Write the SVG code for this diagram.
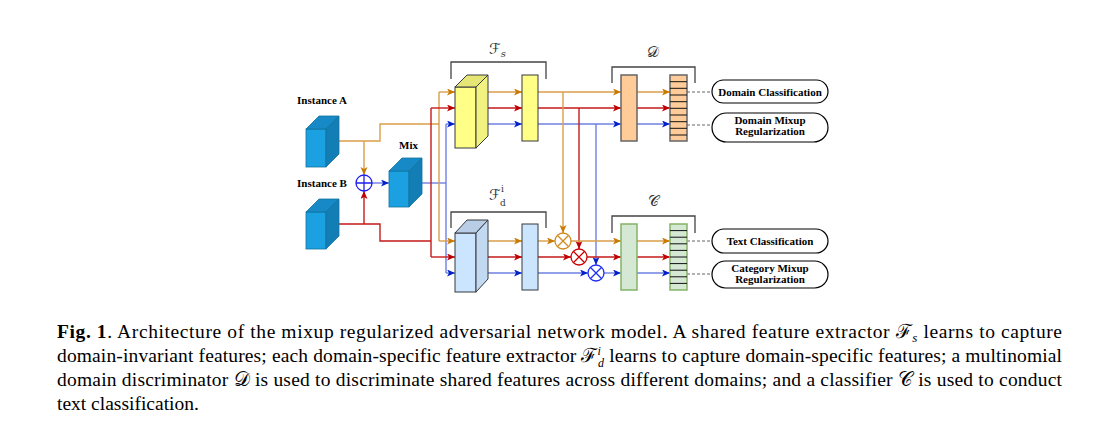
<svg xmlns="http://www.w3.org/2000/svg" width="1101" height="425" viewBox="0 0 1101 425">
<defs>
<style>
.lbl{font-family:"Liberation Serif","Times New Roman",serif;font-weight:bold;font-size:11px;fill:#000;text-anchor:middle}
.math{font-family:"DejaVu Serif","DejaVu Sans",serif;font-style:normal;fill:#333}
.cap{font-family:"Liberation Serif","Times New Roman",serif;font-size:19.5px;fill:#000}
.lo{fill:none;stroke:#DA9E4A;stroke-width:1.4}
.lr{fill:none;stroke:#C41A1A;stroke-width:1.4}
.lb{fill:none;stroke:#6E80E2;stroke-width:1.4}
.ao{marker-end:url(#mo)}
.ar{marker-end:url(#mr)}
.ab{marker-end:url(#mb)}
.dash{fill:none;stroke:#666;stroke-width:1.2;stroke-dasharray:3 2}
.brk{fill:none;stroke:#444;stroke-width:1.3}
.pill{fill:#fff;stroke:#000;stroke-width:1.2}
.cb{stroke:#10739E;stroke-width:0.8}
.cy{stroke:#36393d;stroke-width:1}
.stripe{stroke:#111;stroke-width:1}
</style>
<marker id="mo" markerWidth="9" markerHeight="8" refX="8" refY="3.5" orient="auto" markerUnits="userSpaceOnUse"><path d="M0,0 L8,3.5 L0,7 L2,3.5 z" fill="#C87A00"/></marker>
<marker id="mr" markerWidth="9" markerHeight="8" refX="8" refY="3.5" orient="auto" markerUnits="userSpaceOnUse"><path d="M0,0 L8,3.5 L0,7 L2,3.5 z" fill="#C00000"/></marker>
<marker id="mb" markerWidth="9" markerHeight="8" refX="8" refY="3.5" orient="auto" markerUnits="userSpaceOnUse"><path d="M0,0 L8,3.5 L0,7 L2,3.5 z" fill="#0020CC"/></marker>
</defs>
<rect width="1101" height="425" fill="#fff"/>

<!-- connectors -->
<g id="connectors">
  <path class="lo" d="M339,141 H380 V124 H439"/>
  <path class="lo ao" d="M364,141 V175"/>
  <path class="lr" d="M339,224 H380 V241 H431"/>
  <path class="lr ar" d="M364,224 V191"/>
  <path class="lb ab" d="M372,183 H389"/>
  <path class="lb" d="M422,183 H446"/>
  <path class="lo" d="M439,92 V241"/>
  <path class="lr" d="M431,108 V257"/>
  <path class="lb" d="M446,124 V273"/>
  <path class="lo ao" d="M439,92 H455"/>
  <path class="lr ar" d="M431,108 H455"/>
  <path class="lb ab" d="M446,124 H455"/>
  <path class="lo ao" d="M439,241 H455"/>
  <path class="lr ar" d="M431,257 H455"/>
  <path class="lb ab" d="M446,273 H455"/>
  <path class="lo ao" d="M488,92 H522"/>
  <path class="lr ar" d="M488,108 H522"/>
  <path class="lb ab" d="M488,124 H522"/>
  <path class="lo ao" d="M538,92 H621"/>
  <path class="lr ar" d="M538,108 H621"/>
  <path class="lb ab" d="M538,124 H621"/>
  <path class="lo ao" d="M563,92 V233"/>
  <path class="lr ar" d="M579,108 V249"/>
  <path class="lb ab" d="M596,124 V265"/>
  <path class="lo ao" d="M488,241 H522"/>
  <path class="lr ar" d="M488,257 H522"/>
  <path class="lb ab" d="M488,273 H522"/>
  <path class="lo ao" d="M538,241 H555"/>
  <path class="lr ar" d="M538,257 H571"/>
  <path class="lb ab" d="M538,273 H588"/>
  <path class="lo ao" d="M571,241 H621"/>
  <path class="lr ar" d="M587,257 H621"/>
  <path class="lb ab" d="M604,273 H621"/>
  <path class="lo ao" d="M637,92 H670"/>
  <path class="lr ar" d="M637,108 H670"/>
  <path class="lb ab" d="M637,124 H670"/>
  <path class="lo ao" d="M637,241 H670"/>
  <path class="lr ar" d="M637,257 H670"/>
  <path class="lb ab" d="M637,273 H670"/>
  <path class="dash" d="M687,92 H712"/>
  <path class="dash" d="M687,125 H712"/>
  <path class="dash" d="M687,241 H712"/>
  <path class="dash" d="M687,274 H712"/>
</g>

<g id="instanceA">
  <text class="lbl" x="322" y="104">Instance A</text>
  <rect class="cb" x="306" y="129" width="20" height="38" fill="#1BA1E2"/>
  <polygon class="cb" points="306,129 319,116 339,116 326,129" fill="#1689C6"/>
  <polygon class="cb" points="326,129 339,116 339,154 326,167" fill="#137DB5"/>
</g>

<g id="instanceB">
  <text class="lbl" x="322" y="187">Instance B</text>
  <rect class="cb" x="306" y="212" width="20" height="37" fill="#1BA1E2"/>
  <polygon class="cb" points="306,212 319,199 339,199 326,212" fill="#1689C6"/>
  <polygon class="cb" points="326,212 339,199 339,236 326,249" fill="#137DB5"/>
</g>

<g id="mixop">
  <circle cx="364" cy="183" r="8" fill="#fff" stroke="#1E1EF0" stroke-width="1.3"/>
  <path d="M356,183 H372 M364,175 V191" stroke="#1E1EF0" stroke-width="1.3"/>
</g>

<g id="mix">
  <text class="lbl" x="408.5" y="149">Mix</text>
  <rect class="cb" x="389" y="171" width="20" height="36" fill="#1BA1E2"/>
  <polygon class="cb" points="389,171 402,158 422,158 409,171" fill="#1689C6"/>
  <polygon class="cb" points="409,171 422,158 422,194 409,207" fill="#137DB5"/>
</g>

<g id="Fs">
  <path class="brk" d="M451,79 V62 H546 V79"/>
  <text class="math" x="489" y="54" font-size="15">ℱ<tspan font-size="10" font-style="italic" dy="2.5">s</tspan></text>
  <rect class="cy" x="455" y="87" width="21" height="61" fill="#FFFF88"/>
  <polygon class="cy" points="455,87 467,75 488,75 476,87" fill="#E6E676"/>
  <polygon class="cy" points="476,87 488,75 488,136 476,148" fill="#F2F280"/>
  <rect class="cy" x="522" y="75" width="16" height="66" fill="#FFFF88"/>
</g>

<g id="Fd">
  <path class="brk" d="M451,228 V212 H546 V228"/>
  <text class="math" x="489" y="200" font-size="15">ℱ</text>
  <text class="math" x="501" y="192" font-size="9" font-style="italic">i</text>
  <text class="math" x="500" y="206" font-size="9" font-style="italic">d</text>
  <rect class="cy" x="455" y="233" width="21" height="59" fill="#CCE5FF"/>
  <polygon class="cy" points="455,233 467,220 488,220 476,233" fill="#B8CDE6"/>
  <polygon class="cy" points="476,233 488,220 488,279 476,292" fill="#C2D9F2"/>
  <rect class="cy" x="522" y="224" width="16" height="66" fill="#CCE5FF"/>
</g>

<g id="mulO">
  <circle cx="563" cy="241" r="8" fill="#fff" stroke="#D08A20" stroke-width="1.3"/>
  <path d="M557.3,235.3 L568.7,246.7 M568.7,235.3 L557.3,246.7" stroke="#D08A20" stroke-width="1.3"/>
</g>
<g id="mulR">
  <circle cx="579" cy="257" r="8" fill="#fff" stroke="#CC0000" stroke-width="1.3"/>
  <path d="M573.3,251.3 L584.7,262.7 M584.7,251.3 L573.3,262.7" stroke="#CC0000" stroke-width="1.3"/>
</g>
<g id="mulB">
  <circle cx="596" cy="273" r="8" fill="#fff" stroke="#1E2EF5" stroke-width="1.3"/>
  <path d="M590.3,267.3 L601.7,278.7 M601.7,267.3 L590.3,278.7" stroke="#1E2EF5" stroke-width="1.3"/>
</g>

<g id="D">
  <path class="brk" d="M612,83 V67 H695 V83"/>
  <text class="math" x="653" y="57" font-size="15" text-anchor="middle">𝒟</text>
  <rect x="621" y="75" width="16" height="66" fill="#FFCC99" stroke="#666" stroke-width="1.5"/>
  <rect x="670" y="75" width="17" height="66" fill="#FFCC99" stroke="#666" stroke-width="1.5"/>
  <path class="stripe" d="M670,81.7 H687 M670,88.3 H687 M670,95 H687 M670,101.7 H687 M670,108.3 H687 M670,115 H687 M670,121.7 H687 M670,128.3 H687 M670,135 H687"/>
</g>

<g id="C">
  <path class="brk" d="M612,233 V216 H695 V233"/>
  <text class="math" x="653" y="206" font-size="15" text-anchor="middle">𝒞</text>
  <rect x="621" y="224" width="16" height="66" fill="#D5E8D4" stroke="#82B366" stroke-width="1.5"/>
  <rect x="670" y="224" width="17" height="66" fill="#D5E8D4" stroke="#82B366" stroke-width="1.5"/>
  <path class="stripe" d="M670,230.6 H687 M670,237.2 H687 M670,243.8 H687 M670,250.4 H687 M670,257 H687 M670,263.6 H687 M670,270.2 H687 M670,276.8 H687 M670,283.4 H687"/>
</g>

<g id="domainCls">
  <rect class="pill" x="712" y="80" width="116" height="23" rx="11.5"/>
  <text class="lbl" x="770" y="95.5">Domain Classification</text>
</g>
<g id="domainMix">
  <rect class="pill" x="712" y="113" width="116" height="29" rx="14.5"/>
  <text class="lbl" x="770" y="123.5">Domain Mixup</text>
  <text class="lbl" x="770" y="135">Regularization</text>
</g>
<g id="textCls">
  <rect class="pill" x="712" y="229" width="116" height="24" rx="12"/>
  <text class="lbl" x="770" y="244.5">Text Classification</text>
</g>
<g id="catMix">
  <rect class="pill" x="712" y="261" width="116" height="27" rx="13.5"/>
  <text class="lbl" x="770" y="271.5">Category Mixup</text>
  <text class="lbl" x="770" y="283">Regularization</text>
</g>

<g id="caption">
  <text class="cap" x="57" y="338" textLength="1005" lengthAdjust="spacing"><tspan font-weight="bold">Fig. 1</tspan>. Architecture of the mixup regularized adversarial network model. A shared feature extractor <tspan font-family="DejaVu Serif, serif">ℱ</tspan><tspan font-size="13" font-style="italic" dy="4">s</tspan><tspan dy="-4"> learns to capture</tspan></text>
  <text class="cap" x="57" y="362" textLength="1005" lengthAdjust="spacing">domain-invariant features; each domain-specific feature extractor <tspan font-family="DejaVu Serif, serif">ℱ</tspan><tspan font-size="12" font-style="italic" dy="-7">i</tspan><tspan font-size="12" font-style="italic" dx="-3" dy="12">d</tspan><tspan dy="-5"> learns to capture domain-specific features; a multinomial</tspan></text>
  <text class="cap" x="57" y="386" textLength="1005" lengthAdjust="spacing">domain discriminator <tspan font-family="DejaVu Serif, serif">𝒟</tspan> is used to discriminate shared features across different domains; and a classifier <tspan font-family="DejaVu Serif, serif">𝒞</tspan> is used to conduct</text>
  <text class="cap" x="57" y="410">text classification.</text>
</g>
</svg>
